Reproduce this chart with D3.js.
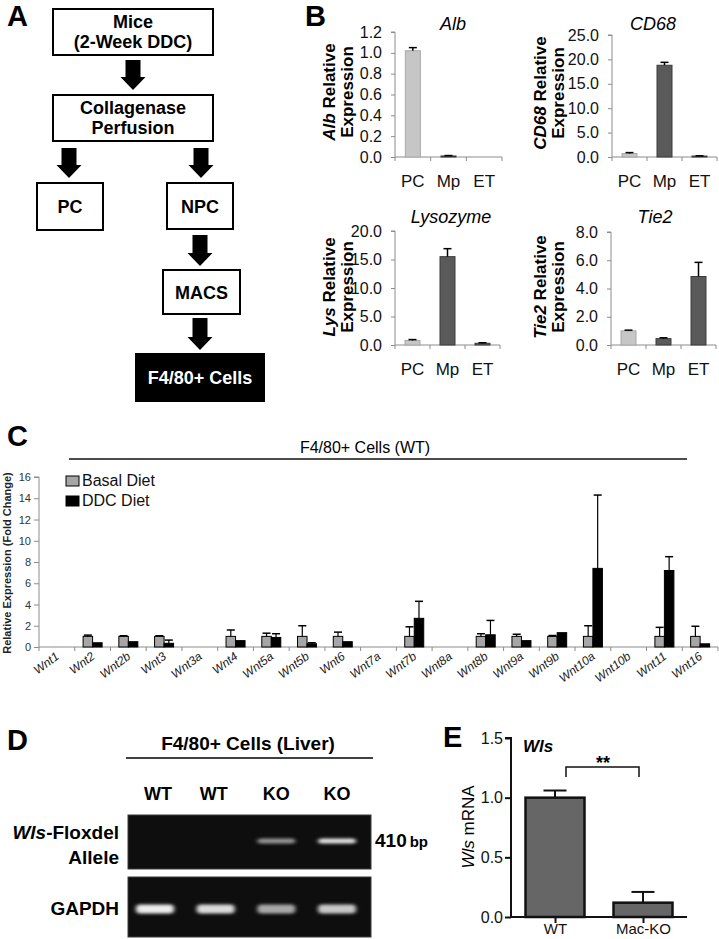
<!DOCTYPE html>
<html><head><meta charset="utf-8">
<script src="https://cdn.jsdelivr.net/npm/d3@7"></script>
<style>
body{margin:0;background:#fff}
svg{display:block;font-family:"Liberation Sans",Arial,Helvetica,sans-serif}
</style>
</head><body>
<svg id="fig" width="719" height="939"></svg>
<script>
// ---------------- DATA ----------------
// Panel A (flow chart labels)
const flowLabels = [["Mice","(2-Week DDC)"],["Collagenase","Perfusion"],["PC"],["NPC"],["MACS"],["F4/80+ Cells"]];

// Panel B
const bCategories = ["PC","Mp","ET"];
const albValues = [1.02, 0.01, 0.0];
const albErrors = [0.03, 0.004, 0.0];
const albTicks = [0,0.2,0.4,0.6,0.8,1.0,1.2];
const cd68Values = [0.7, 18.8, 0.2];
const cd68Errors = [0.2, 0.6, 0.05];
const cd68Ticks = [0,5,10,15,20,25];
const lysValues = [0.8, 15.5, 0.3];
const lysErrors = [0.15, 1.4, 0.1];
const lysTicks = [0,5,10,15,20];
const tie2Values = [1.0, 0.45, 4.85];
const tie2Errors = [0.05, 0.06, 1.0];
const tie2Ticks = [0,2,4,6,8];

// Panel C
const wntGenes = ["Wnt1","Wnt2","Wnt2b","Wnt3","Wnt3a","Wnt4","Wnt5a","Wnt5b","Wnt6","Wnt7a","Wnt7b","Wnt8a","Wnt8b","Wnt9a","Wnt9b","Wnt10a","Wnt10b","Wnt11","Wnt16"];
const basalValues = [0,1,1,1,0,1,1,1,1,0,1,0,1,1,1,1,0,1,1];
const basalErrors = [0,0.12,0.06,0.06,0,0.6,0.3,1.0,0.4,0,0.9,0,0.25,0.2,0.08,1.0,0,0.85,0.95];
const ddcValues   = [0,0.4,0.5,0.35,0,0.6,0.9,0.3,0.5,0,2.7,0,1.15,0.6,1.35,7.4,0,7.2,0.3];
const ddcErrors   = [0,0,0,0.3,0,0,0.35,0.1,0,0,1.6,0,1.35,0,0,6.9,0,1.3,0];
const cTicks = [0,2,4,6,8,10,12,14,16];
const cSeries = ["Basal Diet","DDC Diet"];

// Panel D (gel band intensities, 0-1)
const gelLanes = ["WT","WT","KO","KO"];
const floxdelBands = [0, 0, 0.55, 0.9];
const gapdhBands = [0.95, 0.85, 0.62, 0.75];

// Panel E
const eGroups = ["WT","Mac-KO"];
const eValues = [1.0, 0.12];
const eErrors = [0.06, 0.09];
const eTicks = [0,0.5,1.0,1.5];

// ---------------- DRAW ----------------
const svg = d3.select("#fig");
svg.append("rect").attr("width",719).attr("height",939).attr("fill","#fff");

function panelLabel(x,y,t){
  svg.append("text").attr("x",x).attr("y",y).attr("font-size",29).attr("font-weight","bold").text(t);
}

// ===== Panel A =====
panelLabel(7,26,"A");
const boxes = [
  {x:53,y:9,w:160,h:46},
  {x:53,y:95,w:160,h:46},
  {x:37,y:183,w:66,h:47},
  {x:167,y:183,w:66,h:46},
  {x:163,y:270,w:77,h:44},
  {x:136,y:354,w:128,h:47,dark:true}
];
const gA = svg.append("g");
boxes.forEach((b,i)=>{
  gA.append("rect").attr("x",b.x).attr("y",b.y).attr("width",b.w).attr("height",b.h)
    .attr("fill",b.dark?"#000":"#fff").attr("stroke","#000").attr("stroke-width",2);
  const lines = flowLabels[i];
  const cy = b.y+b.h/2;
  lines.forEach((t,j)=>{
    const yy = lines.length===1 ? cy+6.5 : cy-4.5+j*20.5;
    gA.append("text").attr("x",b.x+b.w/2).attr("y",yy).attr("text-anchor","middle")
      .attr("font-size",18).attr("font-weight","bold").attr("fill",b.dark?"#fff":"#000").text(t);
  });
});
function arrow(cx,y0,y1){
  const hs=7.5, hh=12.5, hl=13;
  gA.append("path").attr("fill","#000")
    .attr("d",`M${cx-hs},${y0}H${cx+hs}V${y1-hl}H${cx+hh}L${cx},${y1}L${cx-hh},${y1-hl}H${cx-hs}Z`);
}
arrow(133,60,90);
arrow(69,148,178);
arrow(201,148,178);
arrow(200,235,266);
arrow(200,318,350);

// ===== Panel B =====
panelLabel(305,26,"B");
const bSpecs = [
  {vals:albValues,errs:albErrors,ticks:albTicks,max:1.2,gene:"Alb",title:"Alb",x0:395,x1:502,y0:157,y1:32,tx:453,ty:30,l1:335,l2:353,lc:92},
  {vals:cd68Values,errs:cd68Errors,ticks:cd68Ticks,max:25,gene:"CD68",title:"CD68",x0:612,x1:717,y0:157,y1:35,tx:653,ty:30,l1:546,l2:564,lc:93},
  {vals:lysValues,errs:lysErrors,ticks:lysTicks,max:20,gene:"Lys",title:"Lysozyme",x0:395,x1:500,y0:345,y1:231,tx:451,ty:223,l1:335,l2:353,lc:287},
  {vals:tie2Values,errs:tie2Errors,ticks:tie2Ticks,max:8,gene:"Tie2",title:"Tie2",x0:611,x1:716,y0:345,y1:232,tx:655,ty:223,l1:546,l2:564,lc:287}
];
bSpecs.forEach(s=>{
  const g = svg.append("g");
  const y = d3.scaleLinear().domain([0,s.max]).range([s.y0,s.y1]);
  const x = d3.scaleBand().domain(bCategories).range([s.x0,s.x1]);
  // y axis
  const ya = g.append("g").attr("transform",`translate(${s.x0},0)`)
    .call(d3.axisLeft(y).tickValues(s.ticks).tickFormat(d3.format(".1f")).tickSize(4).tickPadding(9));
  ya.select(".domain").attr("stroke","#8c8c8c").attr("d",`M-4,${s.y1}H0V${s.y0}`);
  ya.selectAll(".tick line").attr("stroke","#8c8c8c");
  ya.selectAll(".tick text").attr("font-size",16).attr("fill","#111").attr("font-family","Liberation Sans, Arial");
  // x axis line + boundary ticks
  g.append("line").attr("x1",s.x0).attr("x2",s.x1).attr("y1",s.y0).attr("y2",s.y0).attr("stroke","#8c8c8c");
  const bounds = bCategories.map(c=>x(c)).concat([s.x1]);
  g.selectAll(".bt").data(bounds).join("line").attr("x1",d=>d).attr("x2",d=>d)
    .attr("y1",s.y0).attr("y2",s.y0+4).attr("stroke","#8c8c8c");
  // bars
  const bw = 15;
  g.selectAll(".bar").data(s.vals).join("rect")
    .attr("x",(d,i)=>x(bCategories[i])+x.bandwidth()/2-bw/2)
    .attr("y",d=>y(d)).attr("width",bw).attr("height",d=>s.y0-y(d))
    .attr("fill",(d,i)=>i===0?"#c6c6c6":"#5a5a5a")
    .attr("stroke",(d,i)=>i===0?"#a8a8a8":"#3c3c3c").attr("stroke-width",1);
  // error bars
  s.vals.forEach((v,i)=>{
    if(v<=0) return;
    const cx = x(bCategories[i])+x.bandwidth()/2;
    g.append("line").attr("x1",cx).attr("x2",cx).attr("y1",y(v)).attr("y2",y(v+s.errs[i])).attr("stroke","#000").attr("stroke-width",1.5);
    g.append("line").attr("x1",cx-4).attr("x2",cx+4).attr("y1",y(v+s.errs[i])).attr("y2",y(v+s.errs[i])).attr("stroke","#000").attr("stroke-width",1.5);
  });
  // category labels
  const xa = g.append("g").attr("transform",`translate(0,${s.y0})`)
    .call(d3.axisBottom(x).tickSize(0).tickPadding(18));
  xa.select(".domain").remove();
  xa.selectAll("text").attr("font-size",17).attr("fill","#111").attr("font-family","Liberation Sans, Arial");
  // title
  g.append("text").attr("x",s.tx).attr("y",s.ty).attr("text-anchor","middle")
    .attr("font-size",18).attr("font-style","italic").text(s.title);
  // y label
  const t1 = g.append("text").attr("transform",`translate(${s.l1},${s.lc}) rotate(-90)`)
    .attr("text-anchor","middle").attr("font-size",17).attr("font-weight","bold");
  t1.append("tspan").attr("font-style","italic").text(s.gene);
  t1.append("tspan").text(" Relative");
  g.append("text").attr("transform",`translate(${s.l2},${s.lc}) rotate(-90)`)
    .attr("text-anchor","middle").attr("font-size",17).attr("font-weight","bold").text("Expression");
});

// ===== Panel C =====
panelLabel(7,446,"C");
const gC = svg.append("g");
const cx0=39, cx1=718, cy0=647, cy1=477;
const yC = d3.scaleLinear().domain([0,16]).range([cy0,cy1]);
const xC = d3.scaleBand().domain(wntGenes).range([cx0,cx1]);
// title & line
gC.append("text").attr("x",365).attr("y",453).attr("text-anchor","middle").attr("font-size",16).text("F4/80+ Cells (WT)");
gC.append("line").attr("x1",69).attr("x2",687).attr("y1",459).attr("y2",459).attr("stroke","#111").attr("stroke-width",1.5);
// y axis
const yaC = gC.append("g").attr("transform",`translate(${cx0},0)`)
  .call(d3.axisLeft(yC).tickValues(cTicks).tickSize(5).tickPadding(3));
yaC.select(".domain").attr("stroke","#8c8c8c").attr("d",`M-5,${cy1}H0V${cy0}`);
yaC.selectAll(".tick line").attr("stroke","#8c8c8c");
yaC.selectAll(".tick text").attr("font-size",11).attr("fill","#333").attr("font-family","Liberation Sans, Arial");
gC.append("text").attr("transform",`translate(11,563) rotate(-90)`).attr("text-anchor","middle")
  .attr("font-size",11).attr("font-weight","bold").attr("fill","#222").text("Relative Expression (Fold Change)");
// x axis
gC.append("line").attr("x1",cx0).attr("x2",cx1).attr("y1",cy0).attr("y2",cy0).attr("stroke","#8c8c8c");
const cBounds = wntGenes.map(d=>xC(d)).concat([cx1]);
gC.selectAll(".ct").data(cBounds).join("line").attr("x1",d=>d).attr("x2",d=>d)
  .attr("y1",cy0).attr("y2",cy0+4).attr("stroke","#8c8c8c");
gC.selectAll(".xl").data(wntGenes).join("text")
  .attr("transform",d=>`translate(${xC(d)+xC.bandwidth()/2+3},${cy0+11}) rotate(-37)`)
  .attr("text-anchor","end").attr("font-size",12).attr("font-style","italic").attr("fill","#222").text(d=>d);
// bars
const cbw = 9.5;
const seriesC = [
  {vals:basalValues,errs:basalErrors,fill:"#a6a6a6",off:-cbw},
  {vals:ddcValues,errs:ddcErrors,fill:"#000",off:0}
];
seriesC.forEach(s=>{
  s.vals.forEach((v,i)=>{
    if(v<=0) return;
    const cxm = xC(wntGenes[i])+xC.bandwidth()/2;
    gC.append("rect").attr("x",cxm+s.off).attr("y",yC(v)).attr("width",cbw).attr("height",cy0-yC(v))
      .attr("fill",s.fill).attr("stroke","#000").attr("stroke-width",1);
    if(s.errs[i]>0){
      const ex = cxm+s.off+cbw/2;
      gC.append("line").attr("x1",ex).attr("x2",ex).attr("y1",yC(v)).attr("y2",yC(v+s.errs[i])).attr("stroke","#000").attr("stroke-width",1.2);
      gC.append("line").attr("x1",ex-4).attr("x2",ex+4).attr("y1",yC(v+s.errs[i])).attr("y2",yC(v+s.errs[i])).attr("stroke","#000").attr("stroke-width",1.5);
    }
  });
});
// legend
cSeries.forEach((n,i)=>{
  gC.append("rect").attr("x",66).attr("y",476+i*20).attr("width",13).attr("height",10)
    .attr("fill",seriesC[i].fill).attr("stroke","#000").attr("stroke-width",1);
  gC.append("text").attr("x",82).attr("y",486+i*20).attr("font-size",16).attr("fill","#111").text(n);
});

// ===== Panel D =====
panelLabel(7,750,"D");
const gD = svg.append("g");
const defs = svg.append("defs");
defs.append("filter").attr("id","blur").attr("x","-30%").attr("y","-100%").attr("width","160%").attr("height","300%")
  .append("feGaussianBlur").attr("stdDeviation","2 1.8");
gD.append("text").attr("x",248).attr("y",750).attr("text-anchor","middle").attr("font-size",19).attr("font-weight","bold").text("F4/80+ Cells (Liver)");
gD.append("line").attr("x1",126).attr("x2",373).attr("y1",758).attr("y2",758).attr("stroke","#000").attr("stroke-width",1.5);
const xD = d3.scalePoint().domain(d3.range(gelLanes.length)).range([155,337]);
gD.selectAll(".lane").data(gelLanes).join("text").attr("x",(d,i)=>xD(i)+(i===0?3:i===1?-2:0)).attr("y",800)
  .attr("text-anchor","middle").attr("font-size",18).attr("font-weight","bold").text(d=>d);
// gels
const gels = [
  {y:815,h:54,bands:floxdelBands,by:841,bh:5},
  {y:877,h:60,bands:gapdhBands,by:909,bh:9}
];
gels.forEach(gl=>{
  gD.append("rect").attr("x",128).attr("y",gl.y).attr("width",243).attr("height",gl.h)
    .attr("fill","#0e0e0e").attr("stroke","#3a3a3a").attr("stroke-width",1);
  gl.bands.forEach((v,i)=>{
    if(v<=0) return;
    gD.append("rect").attr("x",xD(i)-19).attr("y",gl.by-gl.bh/2).attr("width",38).attr("height",gl.bh)
      .attr("rx",4).attr("fill",d3.interpolateGreys(1-v*0.9)).attr("filter","url(#blur)");
  });
});
const wl = gD.append("text").attr("x",119).attr("y",839).attr("text-anchor","end").attr("font-size",19).attr("font-weight","bold");
wl.append("tspan").attr("font-style","italic").text("Wls");
wl.append("tspan").text("-Floxdel");
gD.append("text").attr("x",119).attr("y",864).attr("text-anchor","end").attr("font-size",19).attr("font-weight","bold").text("Allele");
gD.append("text").attr("x",119).attr("y",915).attr("text-anchor","end").attr("font-size",19).attr("font-weight","bold").text("GAPDH");
const bp = gD.append("text").attr("x",375).attr("y",847).attr("font-weight","bold");
bp.append("tspan").attr("font-size",19).text("410");
bp.append("tspan").attr("font-size",15).attr("dx",3).text("bp");

// ===== Panel E =====
panelLabel(443,747,"E");
const gE = svg.append("g");
const ex0=511, ex1=687, ey0=917, ey1=738;
const yE = d3.scaleLinear().domain([0,1.5]).range([ey0,ey1]);
const xE = d3.scalePoint().domain(eGroups).range([ex0,ex1]).padding(0.5);
const yaE = gE.append("g").attr("transform",`translate(${ex0},0)`)
  .call(d3.axisLeft(yE).tickValues(eTicks).tickFormat(d3.format(".1f")).tickSize(6).tickPadding(2));
yaE.select(".domain").attr("stroke","#111").attr("stroke-width",2).attr("d",`M-6,${ey1}H0V${ey0}`);
yaE.selectAll(".tick line").attr("stroke","#111").attr("stroke-width",2);
yaE.selectAll(".tick text").attr("font-size",16).attr("fill","#111").attr("font-family","Liberation Sans, Arial");
const xaE = gE.append("g").attr("transform",`translate(0,${ey0})`)
  .call(d3.axisBottom(xE).tickSize(6).tickPadding(0));
xaE.select(".domain").attr("stroke","#111").attr("stroke-width",2).attr("d",`M${ex0},0H${ex1}`);
xaE.selectAll(".tick line").attr("stroke","#111").attr("stroke-width",2);
xaE.selectAll(".tick text").attr("font-size",15).attr("fill","#111").attr("font-family","Liberation Sans, Arial");
const ebw = 59;
eValues.forEach((v,i)=>{
  const c = xE(eGroups[i]);
  const top = yE(v+eErrors[i]);
  gE.append("line").attr("x1",c).attr("x2",c).attr("y1",yE(v)).attr("y2",top).attr("stroke","#111").attr("stroke-width",2);
  gE.append("line").attr("x1",c-11.5).attr("x2",c+11.5).attr("y1",top).attr("y2",top).attr("stroke","#111").attr("stroke-width",2);
});
gE.selectAll(".eb").data(eValues).join("rect")
  .attr("x",(d,i)=>xE(eGroups[i])-ebw/2).attr("y",d=>yE(d)).attr("width",ebw).attr("height",d=>ey0-yE(d))
  .attr("fill","#666").attr("stroke","#111").attr("stroke-width",2.5);
gE.append("text").attr("x",523).attr("y",752).attr("font-size",17).attr("font-weight","bold").attr("font-style","italic").text("Wls");
gE.append("path").attr("d","M566,777V767H639V777").attr("fill","none").attr("stroke","#111").attr("stroke-width",1.5);
gE.append("text").attr("x",603).attr("y",769).attr("text-anchor","middle").attr("font-size",18).attr("font-weight","bold").text("**");
const ylE = gE.append("text").attr("transform","translate(474,827) rotate(-90)").attr("text-anchor","middle").attr("font-size",17);
ylE.append("tspan").attr("font-style","italic").text("Wls");
ylE.append("tspan").text(" mRNA");
</script>
</body></html>
